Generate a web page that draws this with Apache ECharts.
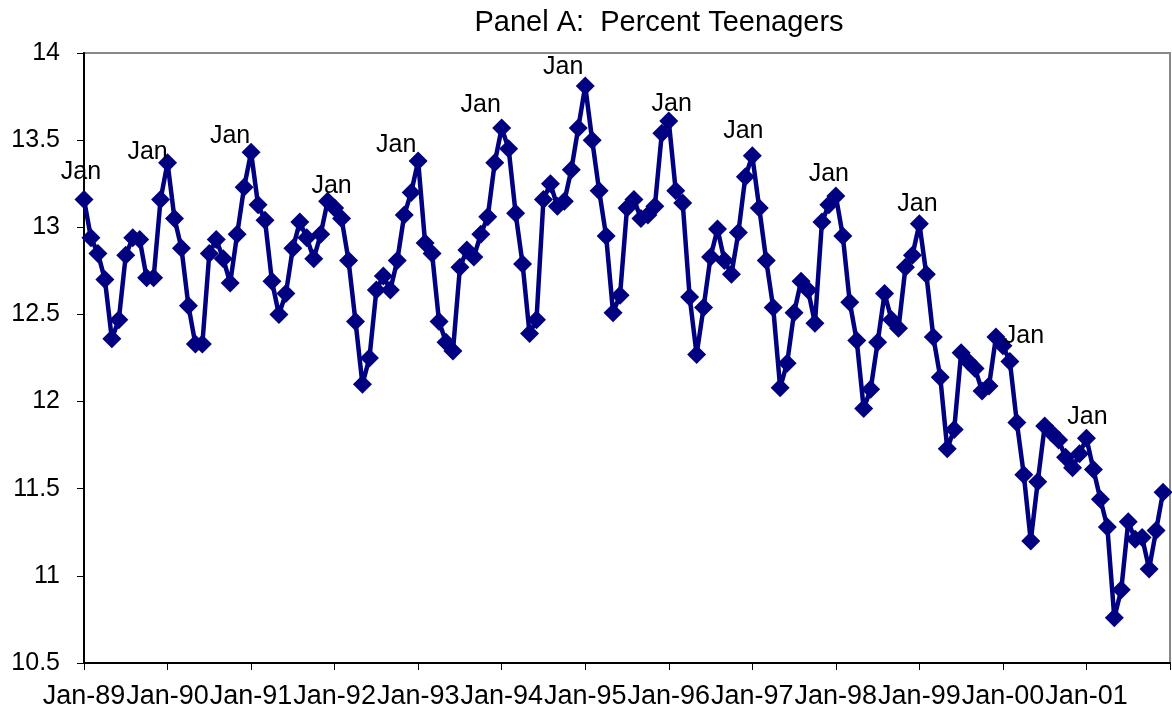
<!DOCTYPE html>
<html>
<head>
<meta charset="utf-8">
<script src="https://cdn.jsdelivr.net/npm/echarts@6/dist/echarts.min.js"></script>
<style>
  html, body { margin: 0; padding: 0; background: #fff; }
  #chart { width: 1172px; height: 721px; }
</style>
</head>
<body>
<div id="chart"></div>
<script>
// month names + years -> category labels like "Jan-89"
const monthNames = ['Jan','Feb','Mar','Apr','May','Jun','Jul','Aug','Sep','Oct','Nov','Dec'];
const years = [89, 90, 91, 92, 93, 94, 95, 96, 97, 98, 99, 0, 1];

// percent teenagers, one array per year (Jan..Dec)
const pct1989 = [13.16, 12.94, 12.85, 12.70, 12.36, 12.47, 12.84, 12.94, 12.93, 12.71, 12.71, 13.16];
const pct1990 = [13.37, 13.05, 12.88, 12.55, 12.33, 12.33, 12.85, 12.93, 12.82, 12.68, 12.96, 13.23];
const pct1991 = [13.43, 13.13, 13.04, 12.69, 12.50, 12.62, 12.88, 13.03, 12.94, 12.82, 12.96, 13.15];
const pct1992 = [13.11, 13.05, 12.81, 12.46, 12.10, 12.25, 12.64, 12.72, 12.64, 12.81, 13.07, 13.20];
const pct1993 = [13.38, 12.91, 12.85, 12.46, 12.34, 12.29, 12.77, 12.87, 12.83, 12.96, 13.06, 13.37];
const pct1994 = [13.57, 13.45, 13.08, 12.79, 12.39, 12.47, 13.16, 13.25, 13.12, 13.15, 13.33, 13.57];
const pct1995 = [13.81, 13.50, 13.21, 12.95, 12.51, 12.61, 13.11, 13.16, 13.05, 13.07, 13.12, 13.54];
const pct1996 = [13.61, 13.21, 13.14, 12.60, 12.27, 12.54, 12.83, 12.99, 12.81, 12.73, 12.97, 13.29];
const pct1997 = [13.41, 13.11, 12.81, 12.54, 12.08, 12.22, 12.51, 12.69, 12.64, 12.45, 13.03, 13.13];
const pct1998 = [13.18, 12.95, 12.57, 12.35, 11.96, 12.07, 12.34, 12.62, 12.47, 12.42, 12.77, 12.84];
const pct1999 = [13.02, 12.73, 12.37, 12.14, 11.73, 11.84, 12.28, 12.23, 12.19, 12.06, 12.09, 12.37];
const pct2000 = [12.32, 12.23, 11.88, 11.58, 11.20, 11.54, 11.86, 11.82, 11.78, 11.68, 11.62, 11.70];
const pct2001 = [11.79, 11.61, 11.44, 11.28, 10.76, 10.92, 11.31, 11.21, 11.22, 11.04, 11.26, 11.48];

const yTicks = { min: 10.5, max: 14, step: 0.5 };

// where each "Jan" data label sits relative to its point (hand placed in the original)
const janLabelOffset = [
  [-3, -27], [-20, -11], [-21, -16], [-3, -22], [-22, -16], [-21, -23], [-22, -19],
  [3, -17], [-9, -25], [-7, -22], [-2, -20], [21, -10], [1, -21]
];

const values = [].concat(pct1989, pct1990, pct1991, pct1992, pct1993, pct1994, pct1995,
  pct1996, pct1997, pct1998, pct1999, pct2000, pct2001);

const categories = [];
years.forEach(y => {
  monthNames.forEach(m => categories.push(m + '-' + String(y).padStart(2, '0')));
});
categories.push('Jan-02'); // axis runs on to the next January, no data there

const seriesData = values.map((v, i) => {
  if (i % 12 !== 0) return v;
  return {
    value: v,
    label: {
      show: true,
      formatter: 'Jan',
      position: 'inside',
      offset: janLabelOffset[i / 12],
      color: '#000',
      fontSize: 25,
      fontFamily: 'Liberation Sans'
    }
  };
});

const chart = echarts.init(document.getElementById('chart'));

const option = {
  animation: false,
  title: {
    text: 'Panel A:  Percent Teenagers',
    left: 654,
    top: 3,
    textAlign: 'center',
    textStyle: { fontSize: 29, fontWeight: 'normal', color: '#000', fontFamily: 'Liberation Sans' }
  },
  grid: {
    left: 84, right: 2, top: 53, bottom: 58,
    show: true, borderColor: '#888', borderWidth: 2, backgroundColor: '#fff'
  },
  xAxis: {
    type: 'category',
    data: categories,
    boundaryGap: false,
    axisLine: { lineStyle: { color: '#000', width: 2 } },
    axisTick: {
      length: 7,
      lineStyle: { color: '#000', width: 1 },
      interval: (idx, val) => val.startsWith('Jan')
    },
    axisLabel: {
      interval: (idx, val) => val.startsWith('Jan') && idx < values.length,
      hideOverlap: false,
      showMinLabel: true,
      margin: 20,
      color: '#000',
      fontSize: 27,
      fontFamily: 'Liberation Sans'
    },
    splitLine: { show: false }
  },
  yAxis: {
    type: 'value',
    min: yTicks.min,
    max: yTicks.max,
    interval: yTicks.step,
    axisLine: { show: true, lineStyle: { color: '#000', width: 2 } },
    axisTick: { show: true, length: 7, lineStyle: { color: '#000' } },
    axisLabel: { margin: 24, color: '#000', fontSize: 25, fontFamily: 'Liberation Sans' },
    splitLine: { show: false }
  },
  series: [{
    type: 'line',
    data: seriesData,
    symbol: 'diamond',
    symbolSize: 19,
    showAllSymbol: true,
    lineStyle: { color: '#000080', width: 4.5 },
    itemStyle: { color: '#000080' },
    emphasis: { disabled: true }
  }]
};

option && chart.setOption(option);
</script>
</body>
</html>
